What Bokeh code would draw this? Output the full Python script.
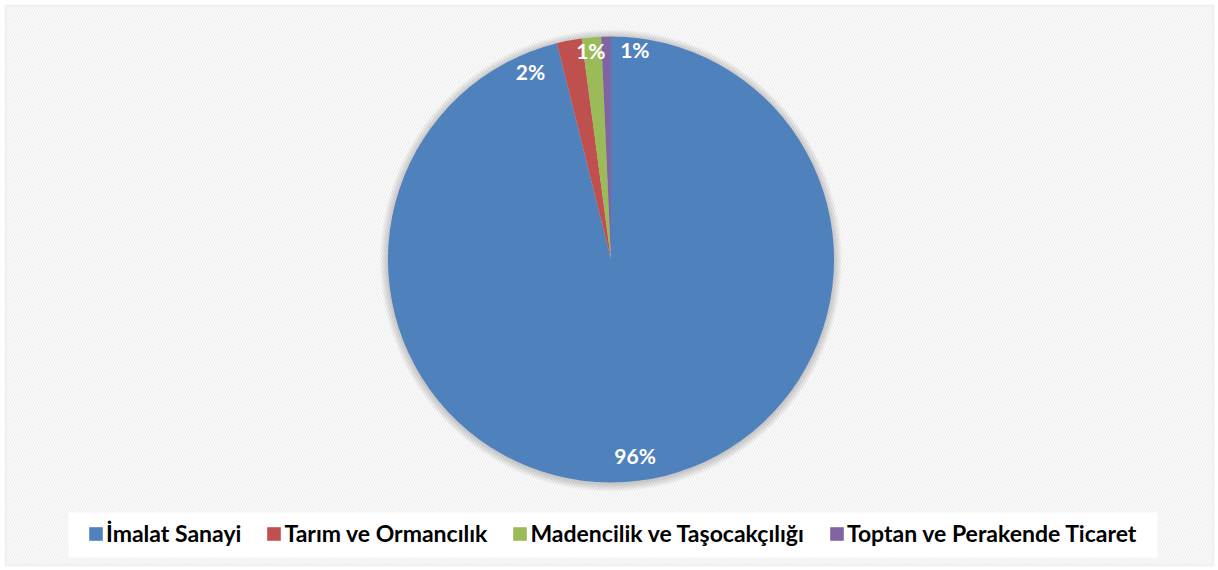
import math
from bokeh.plotting import figure
from bokeh.models import Range1d, BoxAnnotation, Legend, LegendItem, ColumnDataSource
from bokeh.core.properties import value
from bokeh.embed import file_html
from bokeh.resources import INLINE

# ---- data ----
categories = ["İmalat Sanayi", "Tarım ve Ormancılık",
              "Madencilik ve Taşocakçılığı", "Toptan ve Perakende Ticaret"]
shares = [96.1, 1.8, 1.4, 0.7]
pct_labels = ["96%", "2%", "1%", "1%"]
colors = ["#4F81BD", "#C0504D", "#9BBB59", "#8064A2"]

# ---- layout constants ----
W, H = 1218, 570
cx, cy, R = 610.5, 311.0, 223.0
label_dir_deg = [173.0, -23.2, -5.5, 6.5]   # clockwise from 12 o'clock
label_r = [197.5, 204.5, 210.0, 211.0]
FONT = "Lato"

p = figure(width=W, height=H, x_range=Range1d(0, W), y_range=Range1d(0, H),
           output_backend="svg", toolbar_location=None, min_border=0,
           x_axis_location=None, y_axis_location=None)
p.grid.visible = False
p.outline_line_color = None
p.background_fill_color = "white"
p.border_fill_color = "white"

bg = BoxAnnotation(left=5, right=1213, bottom=5, top=565,
                   fill_color="white", fill_alpha=1.0, hatch_pattern="\\",
                   hatch_color="#f0f0f0", hatch_weight=1.5, hatch_scale=5,
                   line_color="#d9d9d9", line_width=2, level="underlay")
p.add_layout(bg)
legend_bg = BoxAnnotation(left=68, right=1157, bottom=13, top=58,
                          fill_color="white", fill_alpha=1.0, line_color=None,
                          level="underlay")
p.add_layout(legend_bg)

# soft shadow around the pie
for k in range(1, 9):
    p.circle(x=cx, y=cy - 1, radius=R + k, fill_color="black", fill_alpha=0.022,
             line_color=None)

total = sum(shares)
cum = 0.0
starts, ends = [], []
for s in shares:
    starts.append(math.pi / 2 - 2 * math.pi * cum / total)
    cum += s
    ends.append(math.pi / 2 - 2 * math.pi * cum / total)

src = ColumnDataSource(dict(start=starts, end=ends, color=colors, cat=categories))
wr = p.wedge(x=cx, y=cy, radius=R, start_angle="start", end_angle="end",
             direction="clock", fill_color="color", line_color=None, source=src)

lx = [cx + r * math.sin(math.radians(a)) for a, r in zip(label_dir_deg, label_r)]
ly = [cy + r * math.cos(math.radians(a)) for a, r in zip(label_dir_deg, label_r)]
lsrc = ColumnDataSource(dict(x=lx, y=ly, t=pct_labels))
p.text(x="x", y="y", text="t", source=lsrc, text_color="white",
       text_font=value(FONT), text_font_style="bold", text_font_size="21px",
       text_align="center", text_baseline="middle")

items = [LegendItem(label=c, renderers=[wr], index=i) for i, c in enumerate(categories)]
legend = Legend(items=items, orientation="horizontal", location=(87, 23),
                background_fill_alpha=0.0, border_line_color=None,
                padding=12, spacing=24, margin=0,
                glyph_width=17, glyph_height=17, label_standoff=2,
                label_text_font=FONT, label_text_font_style="bold",
                label_text_font_size="23px", label_text_color="black")
p.add_layout(legend)

open("out.html", "w").write(file_html(p, INLINE))
